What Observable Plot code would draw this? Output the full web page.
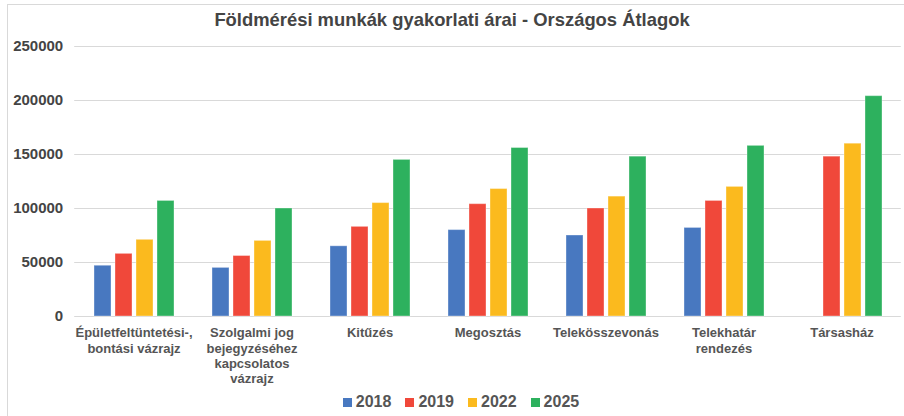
<!DOCTYPE html>
<html>
<head>
<meta charset="utf-8">
<script src="https://cdn.jsdelivr.net/npm/d3@7"></script>
<script src="https://cdn.jsdelivr.net/npm/@observablehq/plot@0.6"></script>
<style>
  html, body { margin: 0; padding: 0; background: #fff; overflow: hidden; }
  body { width: 904px; height: 416px; position: relative; font-family: "Liberation Sans", Arial, sans-serif; }
  #frame { position: absolute; left: 7px; top: 4px; width: 1000px; height: 1000px;
           border-top: 1px solid #d9d9d9; border-left: 1px solid #d9d9d9; pointer-events: none; }
  #title { height: 36px; box-sizing: border-box; padding-top: 4px; line-height: 32px; text-align: center;
           font-size: 18.4px; font-weight: bold; color: #444; }
  #chart svg { display: block; }
  #legend { display: flex; justify-content: center; align-items: center; height: 20px; padding-left: 18px;
            font-size: 16px; font-weight: bold; color: #555; }
  .item { display: flex; align-items: center; margin: 0 7px; }
  .sw { width: 9px; height: 9px; margin-right: 4px; }
</style>
</head>
<body>
<div id="frame"></div>
<div id="title">Földmérési munkák gyakorlati árai - Országos Átlagok</div>
<div id="chart"></div>
<div id="legend"></div>
<script>
const categories = [
  "Épületfeltüntetési-,\nbontási vázrajz",
  "Szolgalmi jog\nbejegyzéséhez\nkapcsolatos\nvázrajz",
  "Kitűzés",
  "Megosztás",
  "Telekösszevonás",
  "Telekhatár\nrendezés",
  "Társasház"
];
const years = ["2018", "2019", "2022", "2025"];
const values2018 = [47000, 45000, 65000, 80000, 75000, 82000, null];
const values2019 = [58000, 56000, 83000, 104000, 100000, 107000, 148000];
const values2022 = [71000, 70000, 105000, 118000, 111000, 120000, 160000];
const values2025 = [107000, 100000, 145000, 156000, 148000, 158000, 204000];
const yTicks = [0, 50000, 100000, 150000, 200000, 250000];
const colors = ["#4878c0", "#f0483a", "#fbba1e", "#2db15e"];

const series = [values2018, values2019, values2022, values2025];
const data = categories.flatMap((c, i) =>
  years.map((y, j) => ({category: c, year: y, value: series[j][i]}))
).filter(d => d.value != null);

const W = 904, ML = 75, MR = 3;
const padInner = 0.31, padOuter = 0.155;
const step = (W - ML - MR) / (categories.length - padInner + 2 * padOuter);
const half = step * padInner / 2;

const chart = Plot.plot({
  width: W,
  height: 356,
  marginLeft: ML,
  marginRight: MR,
  marginTop: 10,
  marginBottom: 76,
  style: {fontFamily: "'Liberation Sans', Arial, sans-serif", background: "white"},
  fx: {domain: categories, paddingInner: padInner, paddingOuter: padOuter, label: null},
  x: {domain: years, paddingInner: 0.21, paddingOuter: 0, axis: null},
  y: {domain: [0, 250000], label: null},
  color: {domain: years, range: colors},
  marks: [
    Plot.ruleY(yTicks, {stroke: "#d9d9d9", strokeOpacity: 1, insetLeft: -half - 0.5, insetRight: -half - 0.5}),
    Plot.axisY(yTicks, {tickSize: 0, tickPadding: 12 + half, tickFormat: d => String(d),
      fontSize: 15, fontWeight: "bold", fill: "#444", label: null}),
    Plot.barY(data, {fx: "category", x: "year", y: "value", fill: "year",
      stroke: "white", strokeOpacity: 0.35, strokeWidth: 1}),
    Plot.axisFx({anchor: "bottom", tickSize: 0, tickPadding: 10, fontSize: 13, fontWeight: "bold",
      fill: "#555", lineHeight: 1.17, label: null})
  ]
});
document.getElementById("chart").appendChild(chart);

const legend = document.getElementById("legend");
years.forEach((y, i) => {
  const item = document.createElement("div");
  item.className = "item";
  const sw = document.createElement("div");
  sw.className = "sw";
  sw.style.background = colors[i];
  const t = document.createElement("span");
  t.textContent = y;
  item.appendChild(sw);
  item.appendChild(t);
  legend.appendChild(item);
});
</script>
</body>
</html>
